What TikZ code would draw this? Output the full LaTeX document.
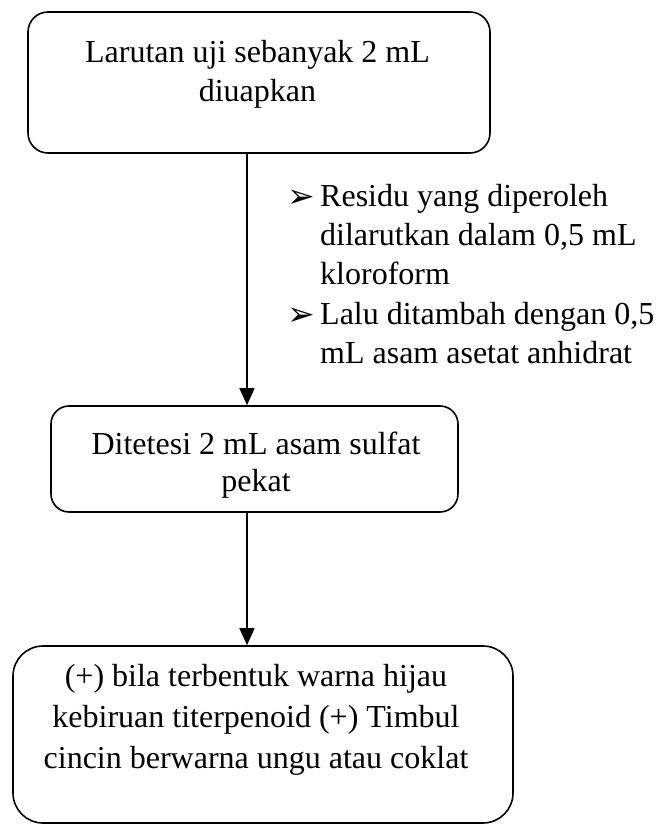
\documentclass[tikz,border=0pt]{standalone}
\usepackage{fontspec}
\setmainfont{Liberation Serif}
\newfontfamily\dejavu{DejaVu Sans}
\usetikzlibrary{arrows.meta}
\newcommand{\bulmark}{\makebox[33pt][l]{\raisebox{-1pt}{\dejavu\fontsize{33}{33}\selectfont ➢}}}
\newcommand{\bulskip}{\hspace*{33pt}}
\begin{document}
\begin{tikzpicture}[x=1pt,y=-1pt,
  box/.style={draw, line width=1.6pt, inner sep=0pt},
  txt/.style={inner sep=0pt, align=center, font=\fontsize{32}{39}\selectfont},
  arr/.style={line width=1.5pt, -{Triangle[width=15pt,length=17pt]}}]
\useasboundingbox (0,0) rectangle (660,825);
\fill[white] (0,0) rectangle (660,825);
\node[box, rounded corners=20pt, minimum width=462pt, minimum height=141pt] (b1) at (259,82.5) {};
\node[box, rounded corners=18pt, minimum width=407pt, minimum height=106pt] (b2) at (254.5,459) {};
\node[box, rounded corners=30pt, minimum width=500pt, minimum height=177pt] (b3) at (263,734.5) {};
\node[txt] (t1) at (257.5,74) {Larutan uji sebanyak 2 mL\\diuapkan};
\node[txt, font=\fontsize{32}{37}\selectfont] (t2) at (256,465) {Ditetesi 2 mL asam sulfat\\pekat};
\node[txt, font=\fontsize{32}{41}\selectfont] (t3) at (256,720) {(+) bila terbentuk warna hijau\\kebiruan titerpenoid (+) Timbul\\cincin berwarna ungu atau coklat};
\node[inner sep=0pt, align=left, anchor=west, font=\fontsize{32}{39.3}\selectfont] (n1) at (287,274)
  {\bulmark Residu yang diperoleh\\
   \bulskip dilarutkan dalam 0,5 mL\\
   \bulskip kloroform\\
   \bulmark Lalu ditambah dengan 0,5\\
   \bulskip mL asam asetat anhidrat};
\coordinate (ax) at (247,0);
\draw[arr] (b1.south -| ax) -- (b2.north -| ax);
\draw[arr] (b2.south -| ax) -- (b3.north -| ax);
\end{tikzpicture}
\end{document}
